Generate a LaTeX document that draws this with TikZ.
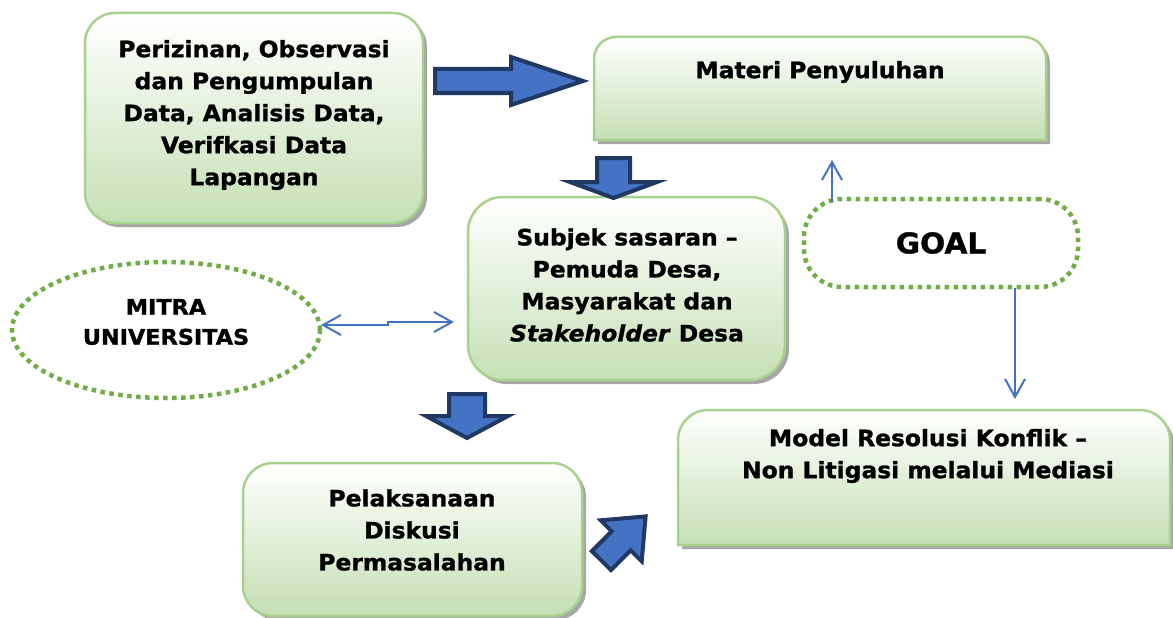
\documentclass[tikz,border=0pt]{standalone}
\usepackage{fontspec}
\setmainfont[FakeStretch=1.04,BoldFeatures={FakeBold=1.2},BoldItalicFeatures={FakeBold=1.2}]{DejaVu Sans}
\usetikzlibrary{arrows.meta,shapes.geometric}
\definecolor{boxgreen}{HTML}{C5E0B4}
\definecolor{boxline}{HTML}{A9D18E}
\definecolor{dotgreen}{HTML}{70AD47}
\definecolor{arrblue}{HTML}{4472C4}
\definecolor{arrnavy}{HTML}{1F3864}
\definecolor{shadowgray}{HTML}{A6A6A6}
\tikzset{
  boxfill/.style={draw=boxline, line width=2.5pt, top color=white, bottom color=boxgreen},
  boxshadow/.style={fill=shadowgray, draw=none, shift={(4,4)}},
  boxtext/.style={font=\fontsize{22.5}{32}\selectfont\bfseries, align=center, inner sep=0pt},
  blockarrow/.style={fill=arrblue, draw=arrnavy, line width=4pt, line join=miter},
  barb/.tip={Straight Barb[length=18pt,width=20pt,line width=2pt]},
  thinarrow/.style={draw=arrblue, line width=2pt, -barb},
  dblarrow/.style={draw=arrblue, line width=2pt, barb-barb},
  dotline/.style={draw=dotgreen, line width=4.5pt, dash pattern=on 4.5pt off 4.5pt},
}
\begin{document}
\begin{tikzpicture}[x=1pt,y=-1pt]
\useasboundingbox (0,0) rectangle (1173,618);

% Box A: Perizinan
\path[boxshadow, rounded corners=30pt] (85,13) rectangle (423,223);
\path[boxfill, rounded corners=30pt] (85,13) rectangle (423,223);
\node[boxtext] (perizinan) at (254,115) {Perizinan, Observasi\\dan Pengumpulan\\Data, Analisis Data,\\Verifkasi Data\\Lapangan};

% Box B: Materi
\path[boxshadow] (594,140) -- (594,59) arc[start angle=180,end angle=270,radius=22] -- (1024,37) arc[start angle=270,end angle=360,radius=22] -- (1046,140) -- cycle;
\path[boxfill] (594,140) -- (594,59) arc[start angle=180,end angle=270,radius=22] -- (1024,37) arc[start angle=270,end angle=360,radius=22] -- (1046,140) -- cycle;
\node[boxtext] (materi) at (820,72) {Materi Penyuluhan};

% Box C: Subjek
\path[boxshadow, rounded corners=35pt] (468,197) rectangle (785,380);
\path[boxfill, rounded corners=35pt] (468,197) rectangle (785,380);
\node[boxtext] (subjek) at (627,285) {Subjek sasaran --\\Pemuda Desa,\\Masyarakat dan\\\textit{Stakeholder} Desa};

% Box D: Pelaksanaan
\path[boxshadow, rounded corners=30pt] (243,463) rectangle (582,616);
\path[boxfill, rounded corners=30pt] (243,463) rectangle (582,616);
\node[boxtext] (pelaksanaan) at (412,530) {Pelaksanaan\\Diskusi\\Permasalahan};

% Box E: Model
\path[boxshadow] (678,545) -- (678,440) arc[start angle=180,end angle=270,radius=30] -- (1140,410) arc[start angle=270,end angle=360,radius=30] -- (1170,545) -- cycle;
\path[boxfill] (678,545) -- (678,440) arc[start angle=180,end angle=270,radius=30] -- (1140,410) arc[start angle=270,end angle=360,radius=30] -- (1170,545) -- cycle;
\node[boxtext] (model) at (928,456) {Model Resolusi Konflik --\\Non Litigasi melalui Mediasi};

% MITRA ellipse
\node[ellipse, dotline, minimum width=308pt, minimum height=136pt, inner sep=0pt] (mitra) at (166,330) {};
\node[font=\fontsize{21.5}{30}\selectfont\bfseries, align=center, inner sep=0pt] (mitratext) at (166,322) {MITRA\\UNIVERSITAS};

% GOAL
\node[dotline, rounded corners=38pt, minimum width=274pt, minimum height=88pt, inner sep=0pt,
      font=\fontsize{28.5}{32}\selectfont\bfseries] (goal) at (941,243) {GOAL};

% thin connectors
\coordinate (mitraR) at (321,325);
\coordinate (subjL) at (454,322);
\draw[dblarrow] (mitraR) -- (388,325) -- (388,322) -- (subjL);
\coordinate (goalUp) at (832,202);
\coordinate (materiLow) at (832,160);
\draw[thinarrow] (goalUp) -- (materiLow);
\coordinate (goalDown) at (1015,288);
\coordinate (modelTop) at (1015,399);
\draw[thinarrow] (goalDown) -- (modelTop);

% block arrows
\path[blockarrow] (435,69) -- (511,69) -- (511,57) -- (583,81) -- (511,105) -- (511,93) -- (435,93) -- cycle;
\path[blockarrow] (597,158) -- (630,158) -- (630,182) -- (657,182) -- (613.5,198) -- (570,182) -- (597,182) -- cycle;
\path[blockarrow] (449,394) -- (485,394) -- (485,416) -- (508,416) -- (467,438) -- (426,416) -- (449,416) -- cycle;
\path[blockarrow] (591.9,551.1) -- (611.7,531.3) -- (600.7,520.3) -- (645.6,516.4) -- (641.7,561.3) -- (630.7,550.3) -- (611.0,570.1) -- cycle;
\end{tikzpicture}
\end{document}
